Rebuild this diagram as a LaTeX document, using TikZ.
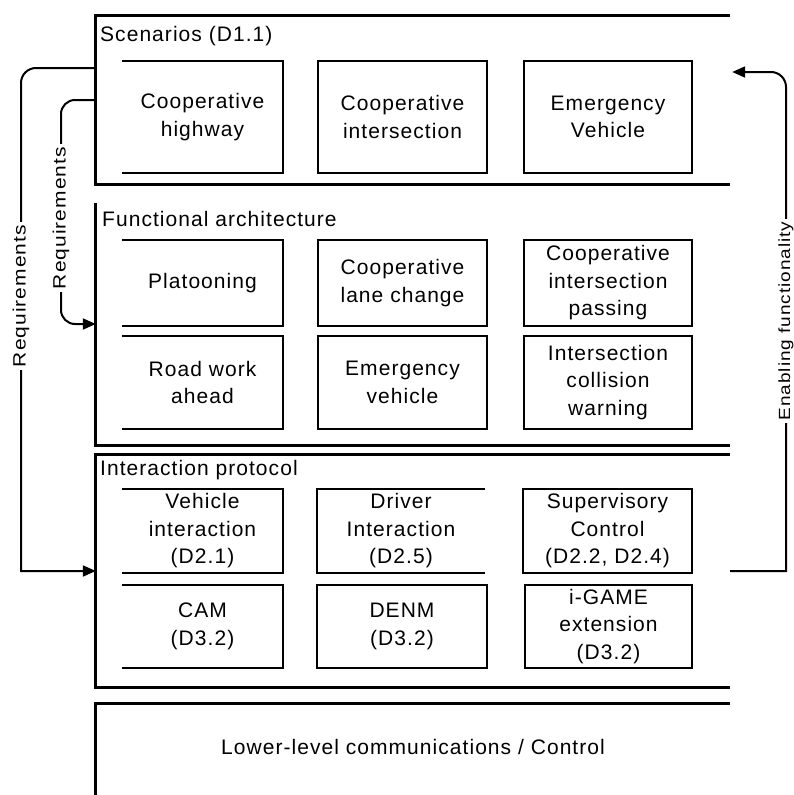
\documentclass[tikz,border=0pt]{standalone}
\usepackage{fontspec}
\setmainfont{Liberation Sans}[LetterSpace=5]
\usetikzlibrary{arrows.meta}
\newcommand{\flatlabel}[1]{\scalebox{1}[0.85]{#1}}
\begin{document}
\begin{tikzpicture}[x=1pt,y=-1pt,
  frame/.style={inner sep=0pt, minimum width=634pt},
  wall/.style={line width=3pt},
  cell/.style={inner sep=0pt, align=center, font=\fontsize{21}{27.5}\selectfont},
  cellbox/.style={cell, draw, line width=2pt},
  edge/.style={line width=2pt},
  conn/.style={line width=2pt, -{Triangle[length=13pt,width=11pt]}},
  title/.style={anchor=base west, inner sep=0pt, font=\fontsize{21}{25}\selectfont},
  lbl/.style={fill=white, inner xsep=3pt, inner ysep=1pt, rotate=90, font=\fontsize{21}{25}\selectfont}]
\useasboundingbox (0,0) rectangle (794,795);

% layer containers, open on the right
\node[frame, minimum height=168pt] (scen) at (413,100) {};
\draw[wall] (scen.north east) -- (scen.north west) -- (scen.south west) -- (scen.south east);
\node[frame, minimum height=242pt] (func) at (413,324) {};
\draw[wall] (func.north west) -- (func.south west) -- (func.south east);
\node[frame, minimum height=232pt] (inter) at (413,571) {};
\draw[wall] (inter.north east) -- (inter.north west) -- (inter.south west) -- (inter.south east);
\node[frame, minimum height=92pt] (lower) at (413,750) {};
\draw[wall] (lower.south west) -- (lower.north west) -- (lower.north east);

% layer titles
\node[title] (tscen) at (100,41) {Scenarios (D1.1)};
\node[title] (tfunc) at (102,226) {Functional architecture};
\node[title] (tinter) at (100,475) {Interaction protocol};
\node[cell] (tlower) at (413,747) {Lower-level communications / Control};

% scenarios
\node[cell, minimum width=161pt, minimum height=112pt] (s1) at (202.5,117) {Cooperative\\highway};
\draw[edge] (s1.north west) -- (s1.north east) -- (s1.south east) -- (s1.south west);
\node[cellbox, minimum width=169pt, minimum height=112pt] (s2) at (402.5,117) {Cooperative\\intersection};
\node[cellbox, minimum width=168pt, minimum height=112pt] (s3) at (608,117) {Emergency\\Vehicle};

% functional architecture
\node[cell, minimum width=161pt, minimum height=86pt] (f1) at (202.5,283) {Platooning};
\draw[edge] (f1.north west) -- (f1.north east) -- (f1.south east) -- (f1.south west);
\node[cellbox, minimum width=169pt, minimum height=86pt] (f2) at (402.5,283) {Cooperative\\lane change};
\node[cellbox, minimum width=168pt, minimum height=86pt] (f3) at (608,283) {Cooperative\\intersection\\passing};
\node[cell, minimum width=161pt, minimum height=93pt] (f4) at (202.5,382.5) {Road work\\ahead};
\draw[edge] (f4.north west) -- (f4.north east) -- (f4.south east) -- (f4.south west);
\node[cellbox, minimum width=169pt, minimum height=93pt] (f5) at (402.5,382.5) {Emergency\\vehicle};
\node[cellbox, minimum width=168pt, minimum height=93pt] (f6) at (608,382.5) {Intersection\\collision\\warning};

% interaction protocol
\node[cell, minimum width=161pt, minimum height=84pt] (p1) at (202.5,531) {Vehicle\\interaction\\(D2.1)};
\draw[edge] (p1.north west) -- (p1.north east) -- (p1.south east) -- (p1.south west);
\node[cell, minimum width=168pt, minimum height=84pt] (p2) at (401,531) {Driver\\Interaction\\(D2.5)};
\draw[edge] (p2.north east) -- (p2.north west) -- (p2.south west) -- (p2.south east);
\node[cellbox, minimum width=169pt, minimum height=84pt] (p3) at (607.5,531) {Supervisory\\Control\\(D2.2, D2.4)};
\node[cell, minimum width=161pt, minimum height=83pt] (p4) at (202.5,626.5) {CAM\\(D3.2)};
\draw[edge] (p4.north west) -- (p4.north east) -- (p4.south east) -- (p4.south west);
\node[cellbox, minimum width=170pt, minimum height=83pt] (p5) at (402,626.5) {DENM\\(D3.2)};
\node[cellbox, minimum width=167pt, minimum height=83pt] (p6) at (608.5,626.5) {i-GAME\\extension\\(D3.2)};

% requirement flows on the left
\draw[conn] ([yshift=32pt]scen.west) [rounded corners=15pt] -| (21,300) [sharp corners] |- (inter.west);
\node[lbl] (req1) at (21,296) {\flatlabel{Requirements}};
\draw[conn, rounded corners=14pt] (scen.west) -| (61,250) |- (func.west);
\node[lbl] (req2) at (61,218) {\flatlabel{Requirements}};

% enabling functionality on the right
\draw[conn] (inter.east) -| (786,300) [rounded corners=15pt] |- ([yshift=28pt,xshift=2pt]scen.east);
\node[lbl, font=\fontsize{19}{23}\selectfont] (enab) at (786,321) {\flatlabel{Enabling functionality}};
\end{tikzpicture}
\end{document}
